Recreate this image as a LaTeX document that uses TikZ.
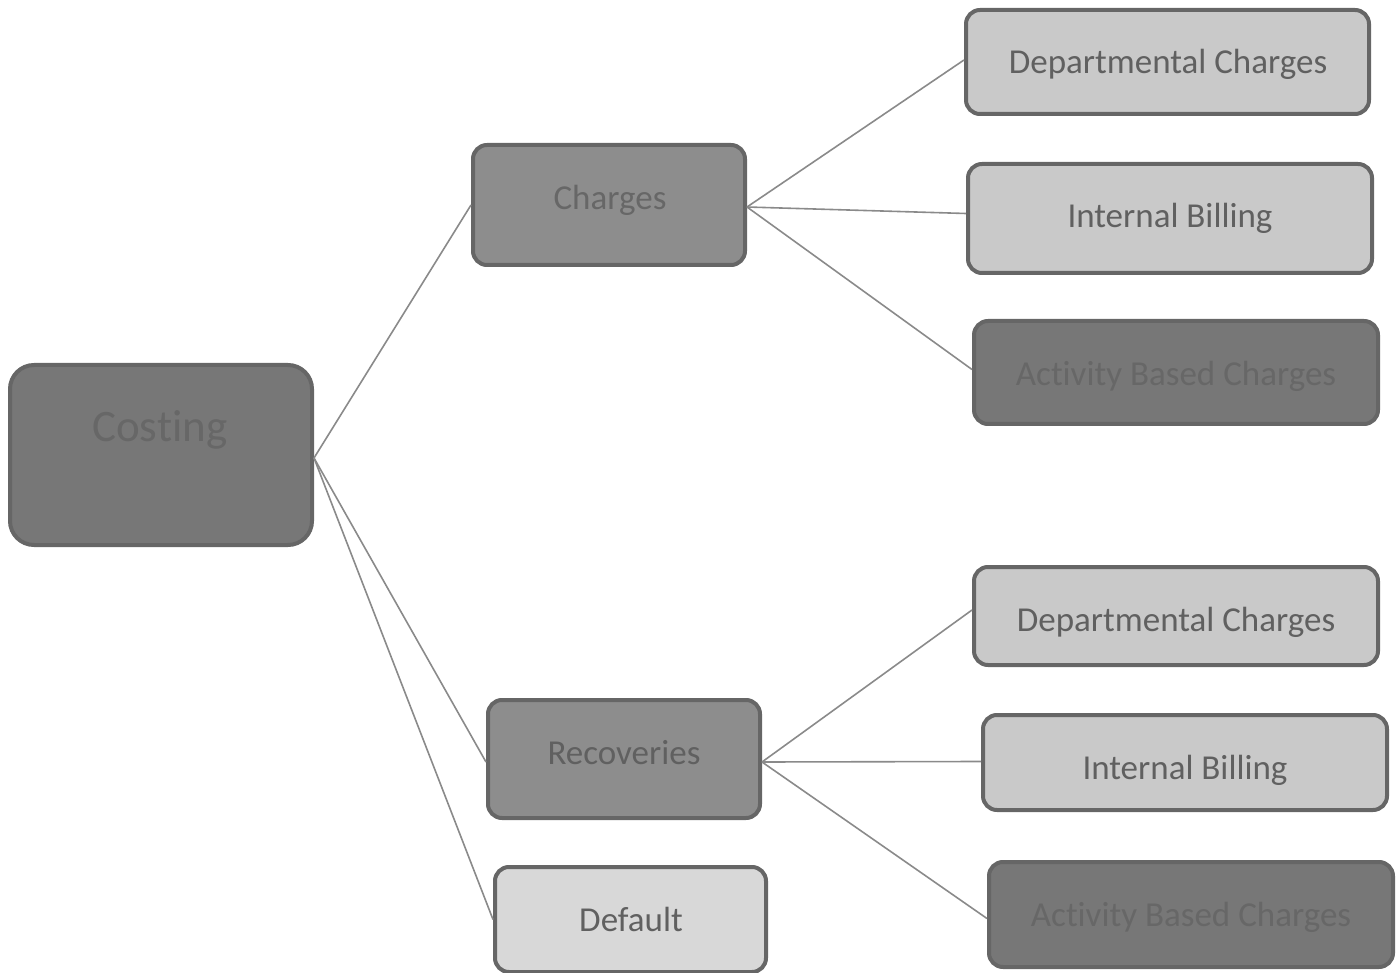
\documentclass[tikz,border=0pt]{standalone}
\usepackage{fontspec}
\setmainfont{Carlito}[Ligatures=NoCommon]
% a boxed t keeps t and i as separate glyphs
\newcommand{\sept}{\mbox{t}}
\definecolor{edgegray}{HTML}{666666}
\definecolor{linkgray}{HTML}{8A8A8A}
\definecolor{txtgray}{HTML}{606060}
\definecolor{dimtxt}{HTML}{676767}
\definecolor{darkfill}{HTML}{777777}
\definecolor{midfill}{HTML}{8D8D8D}
\definecolor{lightfill}{HTML}{C9C9C9}
\definecolor{palefill}{HTML}{D8D8D8}
\begin{document}
\begin{tikzpicture}[x=1pt,y=-1pt,
  box/.style={draw=edgegray, line width=4pt, rounded corners=14pt},
  bigbox/.style={box, rounded corners=24pt},
  lbl/.style={anchor=base, inner sep=0pt, font=\fontsize{35}{40}\selectfont, text=txtgray},
  dimlbl/.style={lbl, text=dimtxt},
  link/.style={draw=linkgray, line width=1.6pt}]
\useasboundingbox (0,0) rectangle (1398,973);
% boxes: centre, size
\node[bigbox, fill=darkfill, minimum width=302pt, minimum height=180pt] (costing) at (161,455) {};
\node[box, fill=midfill, minimum width=272pt, minimum height=120pt] (charges) at (609,205) {};
\node[box, fill=midfill, minimum width=272pt, minimum height=118pt] (recov) at (624,759) {};
\node[box, fill=palefill, minimum width=271pt, minimum height=105pt] (default) at (630.5,919.5) {};
\node[box, fill=lightfill, minimum width=403pt, minimum height=104pt] (dept1) at (1167.5,62) {};
\node[box, fill=lightfill, minimum width=404pt, minimum height=109pt] (bill1) at (1170,218.5) {};
\node[box, fill=darkfill, minimum width=404pt, minimum height=103pt] (abc1) at (1176,372.5) {};
\node[box, fill=lightfill, minimum width=404pt, minimum height=98pt] (dept2) at (1176,616) {};
\node[box, fill=lightfill, minimum width=404pt, minimum height=95pt] (bill2) at (1185,762.5) {};
\node[box, fill=darkfill, minimum width=404pt, minimum height=105pt] (abc2) at (1191,914.5) {};
% labels
\node[dimlbl, font=\fontsize{45}{50}\selectfont] (tcosting) at (160,442) {Cos\sept ing};
\node[dimlbl] (tcharges) at (610,210) {Charges};
\node[lbl] (trecov) at (624,764) {Recoveries};
\node[lbl] (tdefault) at (631,931) {Default};
\node[lbl] (tdept1) at (1168,74) {Departmental Charges};
\node[lbl] (tbill1) at (1170,228) {Internal Billing};
\node[dimlbl] (tabc1) at (1176,386) {Ac\sept ivity Based Charges};
\node[lbl] (tdept2) at (1176,631) {Departmental Charges};
\node[lbl] (tbill2) at (1185,779) {Internal Billing};
\node[dimlbl] (tabc2) at (1191,926) {Ac\sept ivity Based Charges};
% connectors
\draw[link] ([yshift=-3pt]costing.east) -- (charges.west);
\draw[link] ([yshift=-3pt]costing.east) -- ([yshift=-3pt]recov.west);
\draw[link] ([yshift=-3pt]costing.east) -- (default.west);
\draw[link] ([yshift=-2pt]charges.east) -- ([yshift=2pt]dept1.west);
\draw[link] ([yshift=-2pt]charges.east) -- ([yshift=5pt]bill1.west);
\draw[link] ([yshift=-2pt]charges.east) -- ([yshift=3pt]abc1.west);
\draw[link] ([yshift=-3pt]recov.east) -- ([yshift=6pt]dept2.west);
\draw[link] ([yshift=-3pt]recov.east) -- ([yshift=1pt]bill2.west);
\draw[link] ([yshift=-3pt]recov.east) -- ([yshift=-4pt]abc2.west);
\end{tikzpicture}
\end{document}
